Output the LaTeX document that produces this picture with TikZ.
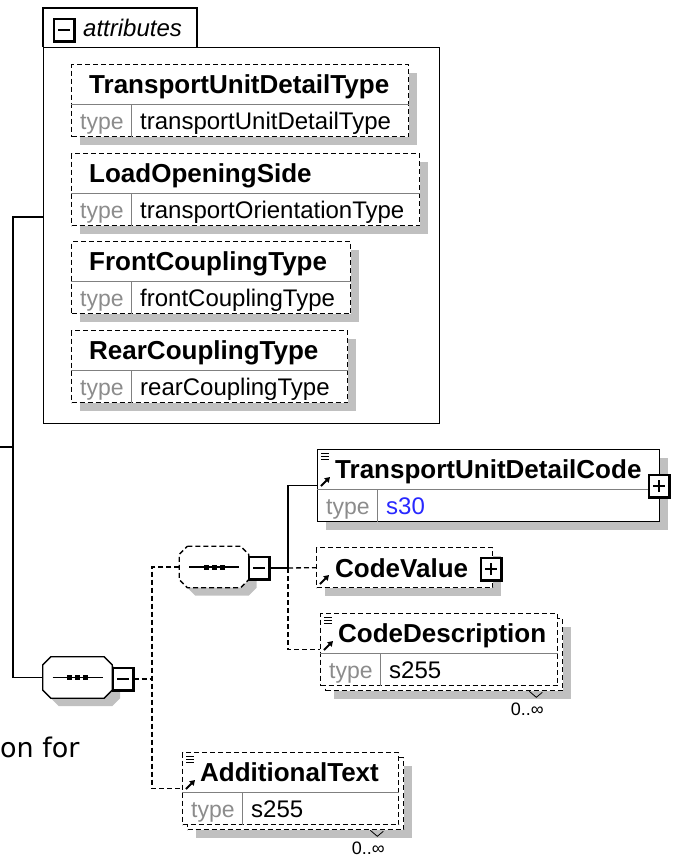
\documentclass[tikz,border=0pt]{standalone}
\usepackage{fontspec}
\setmainfont{Liberation Sans}
\newfontfamily\verdanafont{DejaVu Sans}
\usetikzlibrary{arrows.meta,shadows}

\definecolor{shadowgray}{RGB}{192,192,192}
\definecolor{typegray}{RGB}{140,140,140}
\definecolor{linegray}{RGB}{128,128,128}
\definecolor{s30blue}{RGB}{40,40,255}

\tikzset{
  elem/.style={draw, fill=white, line width=1.3pt, inner sep=0pt, anchor=north west},
  optional/.style={dash pattern=on 5pt off 3pt},
  shade/.style={drop shadow={shadow xshift=8pt, shadow yshift=-8pt, opacity=1, fill=shadowgray}},
  ttl/.style={font=\bfseries\fontsize{26}{30}\selectfont, anchor=base west, inner sep=0pt},
  typlbl/.style={font=\fontsize{23}{28}\selectfont, text=typegray, anchor=base west, inner sep=0pt},
  typval/.style={font=\fontsize{24}{28}\selectfont, anchor=base west, inner sep=0pt},
  link/.style={line width=1.3pt},
  sep/.style={draw=linegray, line width=1pt},
  expander/.style={draw, fill=white, line width=1.2pt, minimum width=20pt, minimum height=22pt, inner sep=0pt},
  seqnode/.style={inner sep=0pt, minimum width=69pt, minimum height=41pt},
  seqshape/.style={insert path={([xshift=8pt]#1.north west) -- ([xshift=-8pt]#1.north east)
    -- ([yshift=-8pt]#1.north east) -- ([yshift=8pt]#1.south east) -- ([xshift=-8pt]#1.south east)
    -- ([xshift=8pt]#1.south west) -- ([yshift=8pt]#1.south west) -- ([yshift=-8pt]#1.north west) -- cycle}},
  refarrow/.style={line width=2pt, -{Triangle[length=5pt,width=6pt]}}
}

\begin{document}
\begin{tikzpicture}[x=1pt, y=-1pt]
  \useasboundingbox (0,0) rectangle (682,859);

  % attributes group
  \node[elem, minimum width=396pt, minimum height=376pt] (attr) at (43,47) {};
  \draw[link, fill=white] (attr.north west) -- ++(0,-39) -- ++(154,0) -- ++(0,39);
  \node[font=\itshape\fontsize{24}{28}\selectfont, anchor=base west, inner sep=0pt] (attrlbl) at (83,37) {attributes};

  \node[elem, optional, shade, minimum width=337pt, minimum height=72pt] (a1) at (71,64) {};
  \node[elem, optional, shade, minimum width=348pt, minimum height=72pt] (a2) at (71,153) {};
  \node[elem, optional, shade, minimum width=279pt, minimum height=72pt] (a3) at (71,241) {};
  \node[elem, optional, shade, minimum width=276pt, minimum height=72pt] (a4) at (71,330) {};

  % child elements (back copies for repeated ones)
  \node[elem, shade, minimum width=342pt, minimum height=72pt] (tudc) at (317,449) {};
  \node[elem, optional, shade, minimum width=176pt, minimum height=40pt] (cval) at (316,547) {};
  \node[elem, optional, shade, minimum width=237pt, minimum height=72pt] (cdescb) at (325,618) {};
  \node[elem, optional, minimum width=237pt, minimum height=72pt] (cdesc) at (320,613) {};
  \node[elem, optional, shade, minimum width=216pt, minimum height=72pt] (addtxtb) at (187,757) {};
  \node[elem, optional, minimum width=216pt, minimum height=72pt] (addtxt) at (182,752) {};

  % name / type rows
  \foreach \n/\t/\v in {a1/TransportUnitDetailType/transportUnitDetailType,
      a2/LoadOpeningSide/transportOrientationType,
      a3/FrontCouplingType/frontCouplingType,
      a4/RearCouplingType/rearCouplingType,
      tudc/TransportUnitDetailCode/{\textcolor{s30blue}{s30}},
      cdesc/CodeDescription/s255,
      addtxt/AdditionalText/s255}{
    \draw[sep] ([yshift=-40pt]\n.north west) -- ([yshift=-40pt]\n.north east);
    \draw[sep] ([shift={(60,40)}]\n.north west) -- ([xshift=60pt]\n.south west);
    \node[ttl] (\n-t) at ([shift={(18,29)}]\n.north west) {\t};
    \node[typlbl] (\n-k) at ([shift={(9,65)}]\n.north west) {type};
    \node[typval] (\n-v) at ([shift={(69,65)}]\n.north west) {\v};
  }
  \node[ttl] (cval-t) at ([shift={(19,30)}]cval.north west) {CodeValue};

  % documentation and reference icons
  \foreach \e in {tudc,cdesc,addtxt}
    \foreach \dy in {4,7,10}
      \draw[line width=0.8pt] ([shift={(4,\dy)}]\e.north west) -- ++(8,0);
  \foreach \e in {tudc,cval,cdesc,addtxt}
    \draw[refarrow] ([shift={(4,37)}]\e.north west) -- ++(9,-9);

  % occurrence 0..oo
  \foreach \b in {cdescb,addtxtb}{
    \draw[line width=0.8pt] ([shift={(-34,0)}]\b.south east) -- ++(7,6) -- ++(6,-5);
    \node[font=\fontsize{18}{20}\selectfont, inner sep=0pt] (\b-m) at ([shift={(-36,18)}]\b.south east) {0..∞};
  }

  % sequence compositors
  \node[seqnode] (seqA) at (77.5,677.5) {};
  \node[seqnode] (seqB) at (214,567) {};
  \foreach \s/\o in {seqA/solid, seqB/optional}{
    \path[fill=shadowgray, transform canvas={shift={(8pt,-8pt)}}, seqshape=\s];
    \path[draw, fill=white, link, \o, seqshape=\s];
    \draw[link] ([xshift=-25pt]\s.center) -- ([xshift=25pt]\s.center);
    \foreach \dx in {-8,0,8}
      \fill ([xshift=\dx pt]\s.center) +(-2.5,-2.5) rectangle +(2.5,2.5);
  }

  % expand / collapse boxes
  \node[expander] (attrm) at (64,30) {};
  \node[expander] (seqAm) at (123,679) {};
  \node[expander] (seqBm) at (259,568) {};
  \node[expander] (tudcp) at (659,486) {};
  \node[expander] (cvalp) at (491,569) {};
  \foreach \m in {attrm,seqAm,seqBm,tudcp,cvalp}{
    \draw[line width=2.4pt] (\m.north east) -- (\m.south east) -- (\m.south west);
    \draw[line width=1.2pt] ([xshift=-6pt]\m.center) -- ([xshift=6pt]\m.center);
  }
  \foreach \m in {tudcp,cvalp}
    \draw[line width=1.2pt] ([yshift=-6pt]\m.center) -- ([yshift=6pt]\m.center);

  % connectors
  \coordinate (root) at (0,447);
  \coordinate (fork) at (13,447);
  \coordinate (attrin) at (43,217);
  \coordinate (forkB) at (152,679);
  \coordinate (forkC) at (288,568);
  \draw[link] (root) -- (fork);
  \draw[link] (attrin) -| (fork) |- (seqA.west);
  \draw[link, optional] (seqAm.east) -- (forkB);
  \draw[link, optional] (seqB.west) -| (forkB) |- (addtxt.west);
  \draw[link] (seqBm.east) -- (forkC) |- (tudc.west);
  \draw[link, optional] (forkC) -- (cval.west);
  \draw[link, optional] (forkC) |- (cdesc.west);

  % text cut at the page edge
  \node[font=\verdanafont\fontsize{27}{32}\selectfont, anchor=base west, inner sep=0pt] (cutlbl) at (0,757) {on for};
\end{tikzpicture}
\end{document}
